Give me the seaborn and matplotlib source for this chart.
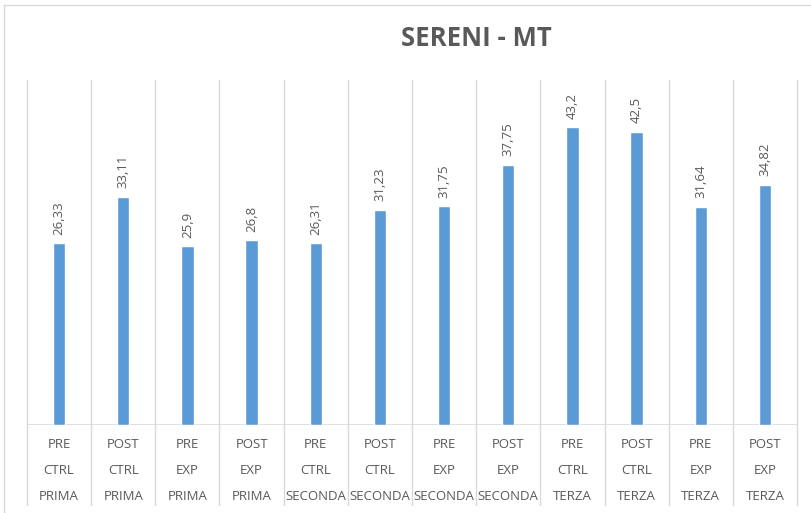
import numpy as np
import pandas as pd
import matplotlib
matplotlib.use("Agg")
import matplotlib.pyplot as plt
from matplotlib.lines import Line2D
import seaborn as sns

fase = ["PRE", "POST", "PRE", "POST", "PRE", "POST", "PRE", "POST", "PRE", "POST", "PRE", "POST"]
gruppo = ["CTRL", "CTRL", "EXP", "EXP", "CTRL", "CTRL", "EXP", "EXP", "CTRL", "CTRL", "EXP", "EXP"]
classe = ["PRIMA", "PRIMA", "PRIMA", "PRIMA", "SECONDA", "SECONDA", "SECONDA", "SECONDA",
          "TERZA", "TERZA", "TERZA", "TERZA"]
valori = [26.33, 33.11, 25.9, 26.8, 26.31, 31.23, 31.75, 37.75, 43.2, 42.5, 31.64, 34.82]
etichette = ["26,33", "33,11", "25,9", "26,8", "26,31", "31,23", "31,75", "37,75", "43,2", "42,5", "31,64", "34,82"]

cat = [f"{a}\n{b}\n{c}" for a, b, c in zip(fase, gruppo, classe)]
df = pd.DataFrame({"cat": cat, "val": valori})

sns.set_style("white")
plt.rcParams['font.family'] = ['Open Sans', 'DejaVu Sans']
grigio = "#595959"
linea = "#d9d9d9"

fig = plt.figure(figsize=(8.12, 5.13), dpi=100)
W, H = 812, 513
ax = fig.add_axes([27 / W, (H - 425) / H, (797 - 27) / W, (425 - 80) / H])

sns.barplot(data=df, x="cat", y="val", color="#5B9BD5", width=0.19, ax=ax, saturation=1)

ax.set_ylim(0, 50)
ax.set_xlim(-0.5, len(cat) - 0.5)
ax.set_xlabel("")
ax.set_ylabel("")
ax.set_yticks([])
for s in ax.spines.values():
    s.set_visible(False)

# separators that run down through the label area
ext = (425 - 505) / (425 - 80)
for i in range(len(cat) + 1):
    ax.add_line(Line2D([i - 0.5, i - 0.5], [ext, 1], transform=ax.get_xaxis_transform(),
                       color=linea, lw=1, clip_on=False, zorder=0))
ax.axhline(0, color=linea, lw=1.2, zorder=0)

ax.tick_params(axis="x", length=0, pad=9, colors=grigio, labelsize=9.5)
for t in ax.get_xticklabels():
    t.set_linespacing(2.35)
    t.set_verticalalignment("top")

for i, (v, lab) in enumerate(zip(valori, etichette)):
    ax.annotate(lab, (i, v), xytext=(0, 6), textcoords="offset points",
                rotation=90, ha="center", va="bottom", color=grigio, fontsize=9.5)

fig.text(476 / W, 1 - 38 / H, "SERENI - MT", ha="center", va="center",
         fontsize=18.5, fontweight="bold", color=grigio)

# outer chart frame
fig.add_artist(Line2D([4 / W, 1], [1 - 5 / H, 1 - 5 / H], transform=fig.transFigure, color=linea, lw=1))
fig.add_artist(Line2D([4 / W, 4 / W], [0, 1 - 5 / H], transform=fig.transFigure, color=linea, lw=1))

fig.savefig("out.png", dpi=100)
